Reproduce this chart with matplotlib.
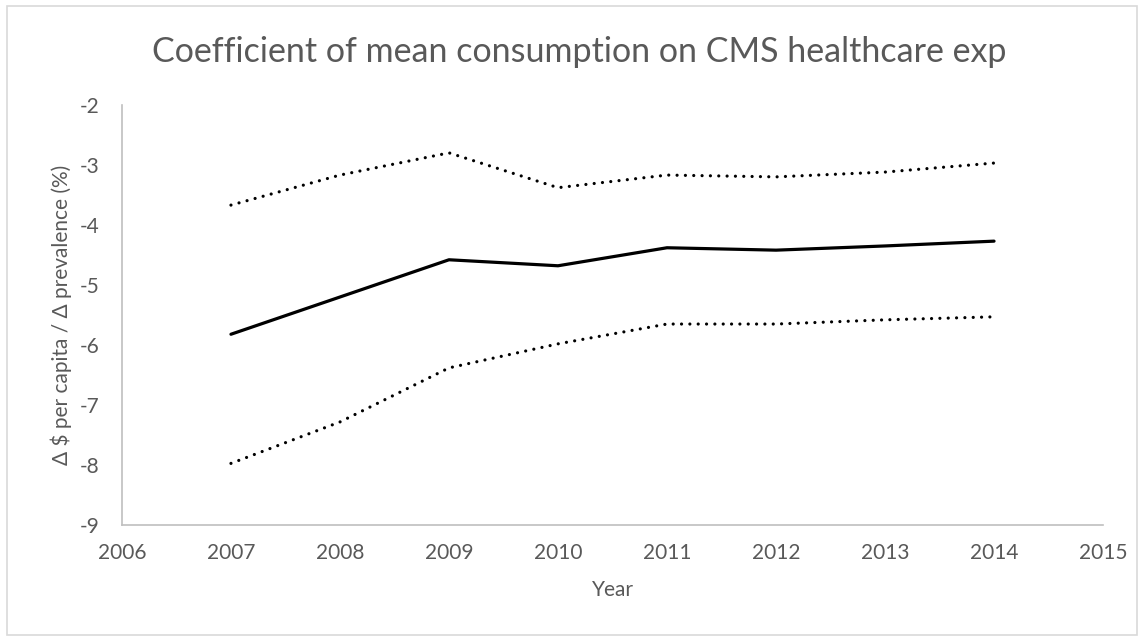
import matplotlib.pyplot as plt
from matplotlib.patches import Rectangle

years = [2007, 2008, 2009, 2010, 2011, 2012, 2013, 2014]
coef = [-5.82, -5.20, -4.58, -4.68, -4.38, -4.42, -4.35, -4.27]
upper = [-3.67, -3.17, -2.80, -3.38, -3.17, -3.20, -3.12, -2.97]
lower = [-7.97, -7.28, -6.38, -5.98, -5.65, -5.65, -5.58, -5.53]

x_ticks = list(range(2006, 2016))
y_ticks = list(range(-9, -1))

grey = '#595959'
plt.rcParams['font.family'] = ['Lato', 'DejaVu Sans']
plt.rcParams['axes.unicode_minus'] = False

fig = plt.figure(figsize=(11.44, 6.39), dpi=100)
ax = fig.add_axes([0.1066, 0.178, 0.8576, 0.658])

ax.plot(years, coef, color='black', lw=2.3, solid_capstyle='round')
dots = (0, (0.01, 2.6))
ax.plot(years, upper, color='black', lw=2.3, linestyle=dots, dash_capstyle='round')
ax.plot(years, lower, color='black', lw=2.3, linestyle=dots, dash_capstyle='round')

ax.set_xlim(2006, 2015)
ax.set_ylim(-9, -2)
ax.set_xticks(x_ticks)
ax.set_yticks(y_ticks)
ax.tick_params(length=0, labelsize=15, labelcolor=grey)
ax.tick_params(axis='x', pad=13)
ax.tick_params(axis='y', pad=16)

for s in ['top', 'right']:
    ax.spines[s].set_visible(False)
for s in ['left', 'bottom']:
    ax.spines[s].set_color('#bfbfbf')
    ax.spines[s].set_linewidth(1.2)

ax.set_xlabel('Year', fontsize=15, color=grey, labelpad=12)
ax.set_ylabel('\u0394 $ per capita / \u0394 prevalence (%)', fontsize=15, color=grey, labelpad=6)

fig.text(0.506, 0.918, 'Coefficient of mean consumption on CMS healthcare exp',
         ha='center', va='center', fontsize=24.5, color=grey)

fig.patches.append(Rectangle((0.006, 0.006), 0.988, 0.984, transform=fig.transFigure,
                             fill=False, edgecolor='#d9d9d9', lw=1.2))

fig.savefig('out.png', dpi=100)
